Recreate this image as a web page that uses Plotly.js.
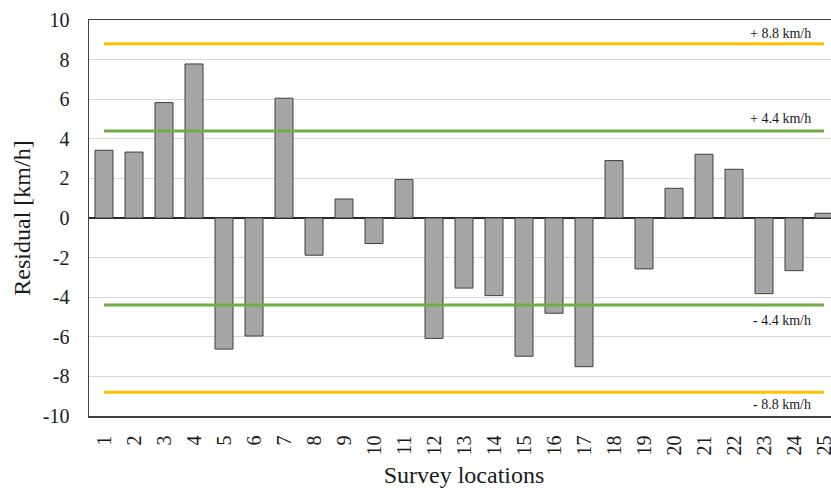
<!DOCTYPE html>
<html>
<head>
<meta charset="utf-8">
<script src="https://cdn.plot.ly/plotly-3.0.1.min.js"></script>
<style>
  html, body { margin: 0; padding: 0; background: #ffffff; overflow: hidden; width: 831px; height: 488px; }
  #chart { width: 840px; height: 488px; }
</style>
</head>
<body>
<div id="chart"></div>
<script>
// Survey locations 1..25 and residual of the predicted speed at each one
const locations = [1, 2, 3, 4, 5, 6, 7, 8, 9, 10, 11, 12, 13, 14, 15, 16, 17, 18, 19, 20, 21, 22, 23, 24, 25];
const residuals = [3.42, 3.33, 5.83, 7.78, -6.62, -5.96, 6.05, -1.88, 0.96, -1.29, 1.94, -6.08, -3.54, -3.92,
                   -6.98, -4.81, -7.51, 2.90, -2.57, 1.50, 3.22, 2.46, -3.82, -2.66, 0.24];

// Y axis ticks, written with a plain hyphen for negatives
const yTickVals = [-10, -8, -6, -4, -2, 0, 2, 4, 6, 8, 10];
const yTickText = ['-10', '-8', '-6', '-4', '-2', '0', '2', '4', '6', '8', '10'];

// Tolerance bands (km/h)
const innerBand = 4.4;
const outerBand = 8.8;
const bandLabels = ['+ 8.8 km/h', '+ 4.4 km/h', '- 4.4 km/h', '- 8.8 km/h'];

const serif = 'Liberation Serif, Times New Roman, serif';
const firstLoc = locations[0];
const lastLoc = locations[locations.length - 1];

function bandLine(y, color) {
  return {
    type: 'scatter', mode: 'lines',
    x: [firstLoc, lastLoc], y: [y, y],
    line: { color: color, width: 3 },
    hoverinfo: 'skip', showlegend: false
  };
}

const traces = [
  {
    type: 'bar',
    x: locations, y: residuals,
    width: 0.6,
    marker: { color: '#a6a6a6', line: { color: '#3f3f3f', width: 1 } },
    showlegend: false
  },
  bandLine(outerBand, '#ffc000'),
  bandLine(innerBand, '#70ad47'),
  bandLine(-innerBand, '#70ad47'),
  bandLine(-outerBand, '#ffc000')
];

const labelX = 24.63;
function bandLabel(text, y, above, shift) {
  return {
    x: labelX, y: y, xref: 'x', yref: 'y',
    text: text, showarrow: false,
    xanchor: 'right', yanchor: above ? 'bottom' : 'top',
    yshift: shift,
    font: { family: serif, size: 14, color: '#1a1a1a' }
  };
}

const layout = {
  width: 840, height: 488,
  margin: { l: 89, r: 1, t: 20, b: 72 },
  paper_bgcolor: '#ffffff', plot_bgcolor: '#ffffff',
  font: { family: serif, color: '#1a1a1a' },
  bargap: 0.4,
  xaxis: {
    type: 'linear',
    range: [0.5, 25.5],
    tickmode: 'array', tickvals: locations, ticktext: locations.map(String),
    tickangle: -90,
    ticks: '', ticklabelstandoff: 10,
    tickfont: { family: serif, size: 20, color: '#1a1a1a' },
    showgrid: false, zeroline: false,
    showline: true, mirror: true, linecolor: '#404040', linewidth: 1.5,
    title: { text: 'Survey locations', font: { family: serif, size: 24, color: '#1a1a1a' }, standoff: 12 }
  },
  yaxis: {
    range: [-10, 10],
    tickmode: 'array', tickvals: yTickVals, ticktext: yTickText,
    ticks: '', ticklabelstandoff: 14,
    tickfont: { family: serif, size: 20, color: '#1a1a1a' },
    showgrid: true, gridcolor: '#d9d9d9', gridwidth: 1,
    zeroline: true, zerolinecolor: '#262626', zerolinewidth: 1.5,
    showline: true, linecolor: '#404040', linewidth: 1.5,
    title: { text: 'Residual [km/h]', font: { family: serif, size: 24, color: '#1a1a1a' }, standoff: 5 }
  },
  annotations: [
    bandLabel(bandLabels[0], outerBand, true, 1),
    bandLabel(bandLabels[1], innerBand, true, 3),
    bandLabel(bandLabels[2], -innerBand, false, -6),
    bandLabel(bandLabels[3], -outerBand, false, -3)
  ]
};

Plotly.newPlot('chart', traces, layout, { displayModeBar: false, staticPlot: true });
</script>
</body>
</html>
